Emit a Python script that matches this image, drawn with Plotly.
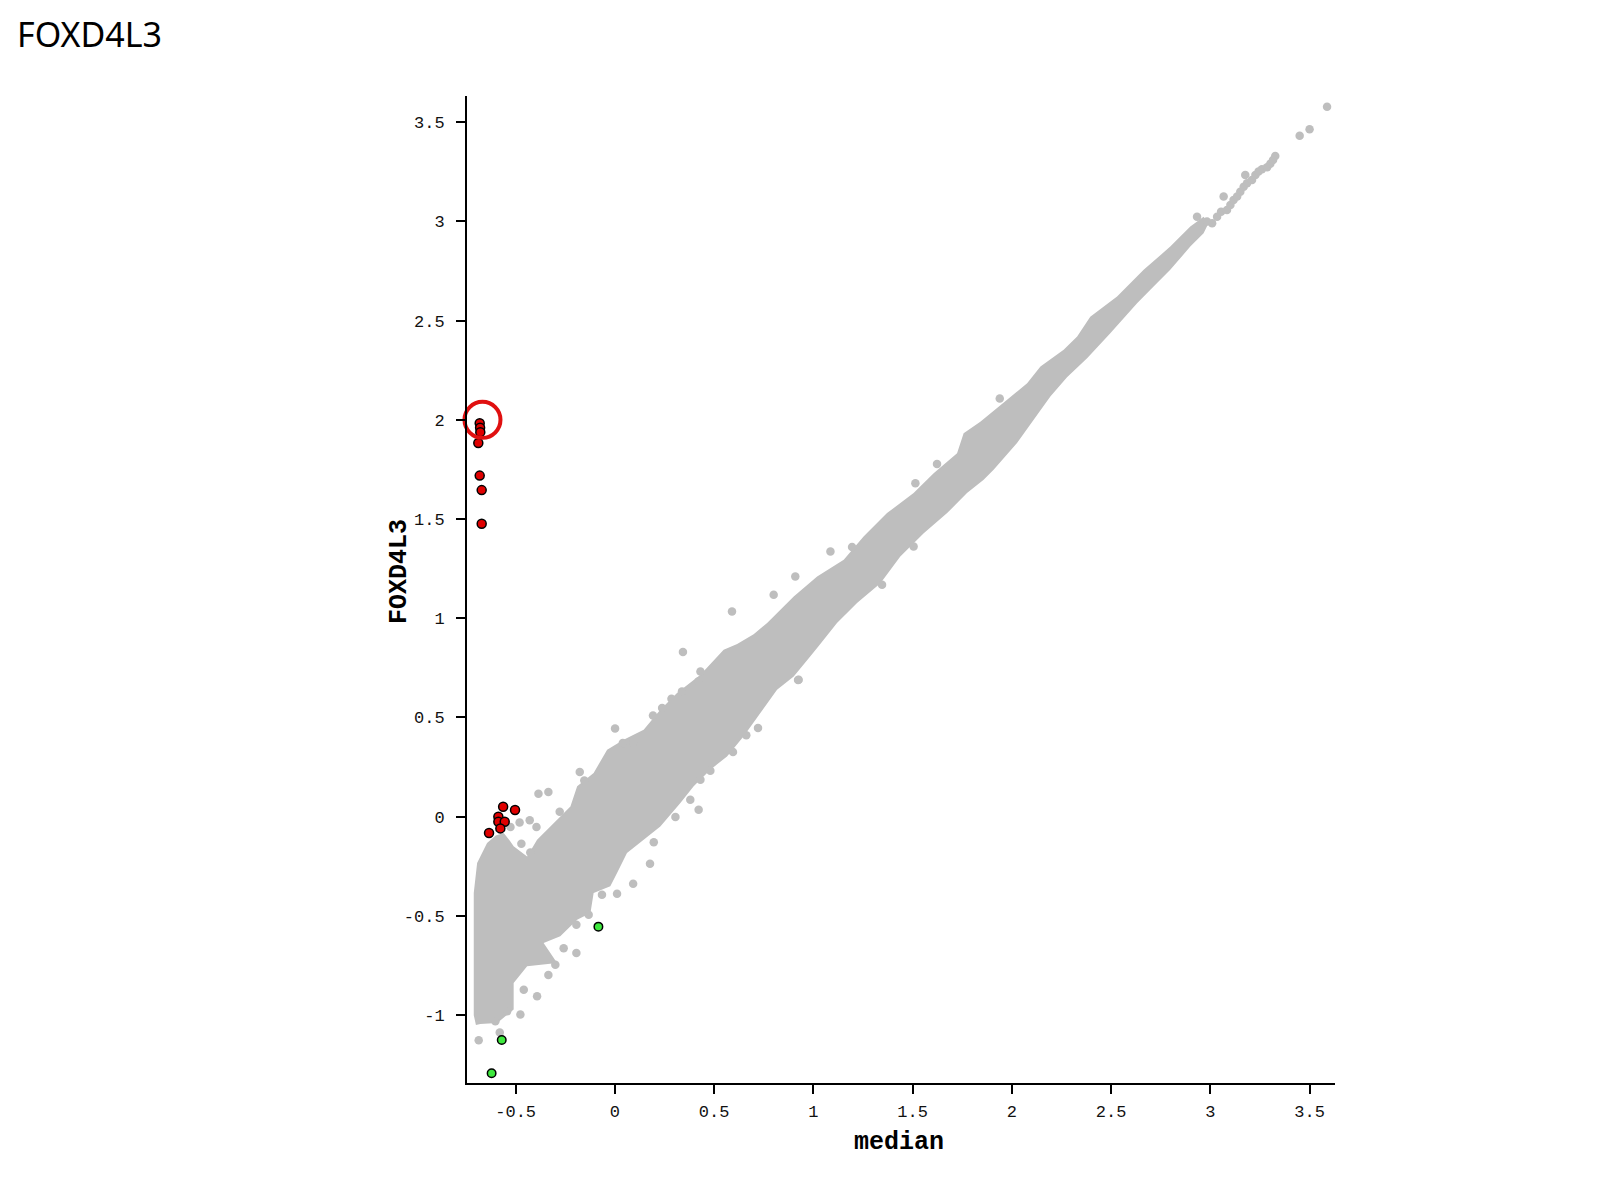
import plotly.graph_objects as go

# ---- data ----
tick_vals = [-1, -0.5, 0, 0.5, 1, 1.5, 2, 2.5, 3, 3.5]
tick_text = ["-1", "-0.5", "0", "0.5", "1", "1.5", "2", "2.5", "3", "3.5"]

# dense gray cloud: outline (upper edge going up, lower edge coming back)
band_x = [-0.700, -0.711, -0.711, -0.694, -0.644, -0.600, -0.560, -0.530, -0.510, -0.442,
          -0.392, -0.325, -0.224, -0.190, -0.107, -0.039, 0.044, 0.145, 0.229, 0.313,
          0.431, 0.548, 0.616, 0.699, 0.767, 0.901, 1.019, 1.153, 1.253, 1.371,
          1.505, 1.606, 1.724, 1.757, 1.841, 1.976, 2.077, 2.144, 2.261, 2.329,
          2.395, 2.530, 2.664, 2.798, 2.899, 2.966,
          2.990, 2.966, 2.899, 2.798, 2.698, 2.631, 2.496, 2.379, 2.278, 2.194,
          2.110, 2.026, 1.908, 1.858, 1.774, 1.674, 1.556, 1.438, 1.338, 1.220,
          1.119, 1.035, 0.985, 0.901, 0.817, 0.733, 0.649, 0.565, 0.481, 0.397,
          0.330, 0.229, 0.145, 0.061, 0.011, -0.023, -0.107, -0.123, -0.190, -0.275,
          -0.359, -0.291, -0.442, -0.510, -0.510, -0.593, -0.678]
band_y = [-1.050, -1.000, -0.385, -0.233, -0.133, -0.095, -0.082, -0.120, -0.149, -0.200,
          -0.116, -0.049, 0.052, 0.153, 0.220, 0.338, 0.388, 0.438, 0.539, 0.623,
          0.715, 0.841, 0.870, 0.920, 0.976, 1.110, 1.211, 1.295, 1.412, 1.530,
          1.631, 1.731, 1.832, 1.933, 1.990, 2.101, 2.185, 2.269, 2.353, 2.420,
          2.520, 2.621, 2.756, 2.873, 2.974, 3.024,
          2.990, 2.940, 2.873, 2.756, 2.655, 2.588, 2.437, 2.310, 2.215, 2.117,
          2.000, 1.883, 1.748, 1.698, 1.631, 1.530, 1.429, 1.311, 1.177, 1.077,
          0.976, 0.870, 0.808, 0.707, 0.640, 0.522, 0.405, 0.304, 0.237, 0.153,
          0.069, -0.049, -0.116, -0.183, -0.284, -0.351, -0.385, -0.485, -0.519, -0.603,
          -0.636, -0.737, -0.754, -0.838, -0.972, -1.039, -1.045]

# individual gray points outside the dense cloud
gray_x = [2.933, 2.983, 3.009, 3.034, 3.054, 3.084, 3.101, 3.117, 3.135, 3.151,
          3.168, 3.185, 3.210, 3.227, 3.243, 3.260, 3.286, 3.302, 3.316, 3.327,
          3.067, 3.176, 3.450, 3.500, 3.588, 1.939,
          0.590, 0.800, 0.909, 1.086, 1.195, 1.623, 1.514, 0.926, 1.346, 1.505,
          0.343, 0.431, 0.422, 0.338, 0.285, 0.238, 0.192, 0.001, 0.092, 0.040,
          -0.177, -0.154, -0.385, -0.335, -0.278, -0.480, -0.429, -0.395, -0.526, -0.471,
          -0.426, 0.923, 0.721, 0.662, 0.595, 0.481, 0.431, 0.422, 0.380, 0.305,
          0.196, 0.177, 0.092, 0.011, -0.065, -0.132, -0.194, -0.194, -0.258, -0.335,
          -0.300, -0.392, -0.459, -0.476, -0.543, -0.602, -0.580, -0.686]
gray_y = [3.024, 2.999, 2.991, 3.024, 3.049, 3.058, 3.083, 3.108, 3.125, 3.150,
          3.175, 3.192, 3.209, 3.234, 3.251, 3.263, 3.273, 3.290, 3.310, 3.330,
          3.125, 3.234, 3.432, 3.464, 3.578, 2.107,
          1.034, 1.118, 1.211, 1.337, 1.359, 1.778, 1.681, 0.690, 1.169, 1.362,
          0.830, 0.732, 0.682, 0.631, 0.594, 0.548, 0.510, 0.445, 0.374, 0.371,
          0.225, 0.183, 0.116, 0.124, 0.025, -0.029, -0.018, -0.052, -0.052, -0.136,
          -0.180, 0.689, 0.447, 0.411, 0.326, 0.232, 0.186, 0.035, 0.086, -0.002,
          -0.129, -0.237, -0.338, -0.388, -0.393, -0.494, -0.544, -0.687, -0.663, -0.798,
          -0.746, -0.905, -0.872, -0.997, -0.981, -1.031, -1.087, -1.127]

# highlighted genes
red_x = [-0.681, -0.679, -0.678, -0.688, -0.681, -0.671, -0.671,
         -0.563, -0.503, -0.587, -0.587, -0.555, -0.577, -0.634]
red_y = [1.983, 1.960, 1.938, 1.883, 1.719, 1.646, 1.476,
         0.050, 0.034, 0.000, -0.025, -0.025, -0.059, -0.082]
green_x = [-0.083, -0.570, -0.621]
green_y = [-0.554, -1.125, -1.293]

# circled gene
circle_x = [-0.667]
circle_y = [2.0]

fig = go.Figure()
fig.add_trace(go.Scatter(x=band_x, y=band_y, mode="none", fill="toself",
                         fillcolor="#bebebe", hoverinfo="skip"))
fig.add_trace(go.Scatter(x=gray_x, y=gray_y, mode="markers",
                         marker=dict(size=8.5, color="#bebebe", line=dict(width=0))))
fig.add_trace(go.Scatter(x=red_x, y=red_y, mode="markers",
                         marker=dict(size=9, color="#e00000", line=dict(width=1.5, color="#000000"))))
fig.add_trace(go.Scatter(x=green_x, y=green_y, mode="markers",
                         marker=dict(size=8.5, color="#3ee83e", line=dict(width=1.5, color="#000000"))))
fig.add_trace(go.Scatter(x=circle_x, y=circle_y, mode="markers", cliponaxis=False,
                         marker=dict(size=36, symbol="circle-open", color="#e01010",
                                     line=dict(width=4, color="#e01010"))))

axis_common = dict(
    showgrid=False, zeroline=False, showline=True, linecolor="black", linewidth=2,
    ticks="outside", ticklen=9, tickwidth=1.5, tickcolor="black",
    tickvals=tick_vals, ticktext=tick_text,
    tickfont=dict(family="Liberation Mono", size=17, color="#111111"),
    mirror=False,
)

fig.update_layout(
    width=1600, height=1200,
    margin=dict(l=459, r=273, t=88, b=125),
    paper_bgcolor="white", plot_bgcolor="white",
    showlegend=False,
    xaxis=dict(range=[-0.745, 3.628], ticklabelstandoff=3, **axis_common),
    yaxis=dict(range=[-1.342, 3.632], ticklabelstandoff=8, **axis_common),
    title=dict(text="FOXD4L3", x=9 / 1600, y=1 - 27 / 1200, xanchor="left", yanchor="middle",
               font=dict(family="Noto Sans", size=34, color="black")),
    annotations=[
        dict(text="<b>median</b>", xref="paper", yref="paper", x=0.4977, y=-0.0598,
             showarrow=False, xanchor="center", yanchor="middle",
             font=dict(family="Liberation Mono", size=25, color="black")),
        dict(text="<b>FOXD4L3</b>", xref="paper", yref="paper", x=-0.0783, y=0.5177,
             showarrow=False, xanchor="center", yanchor="middle", textangle=-90,
             font=dict(family="Liberation Mono", size=25, color="black")),
    ],
)

fig.write_html("out.html")
